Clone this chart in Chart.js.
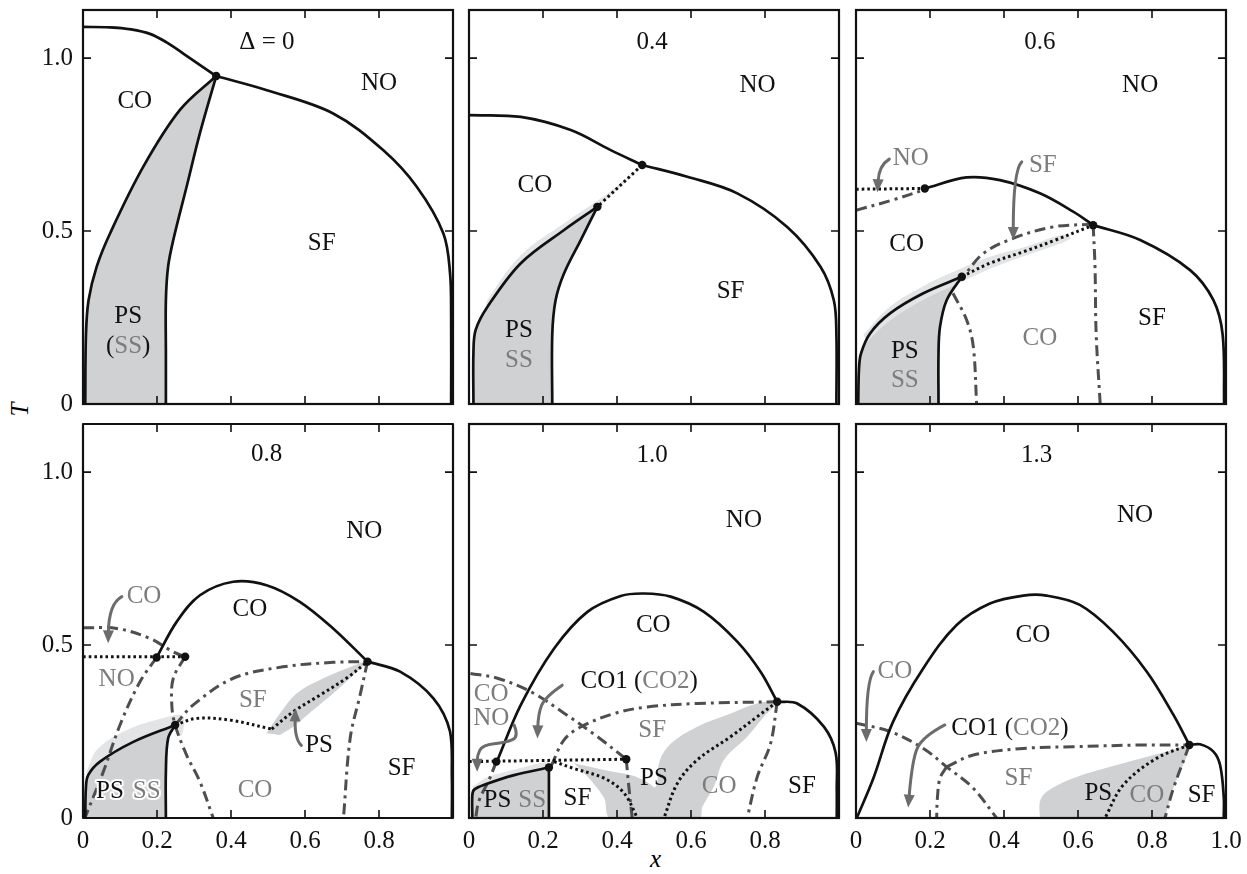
<!DOCTYPE html>
<html>
<head>
<meta charset="utf-8">
<title>Phase diagrams T(x) for several Δ</title>
<script src="https://cdn.jsdelivr.net/npm/chart.js@4.4.1/dist/chart.umd.min.js"></script>
<style>
  body { margin: 0; background: #fff; width: 1247px; height: 874px; position: relative; overflow: hidden; font-family: "Liberation Serif", serif; }
  canvas { position: absolute; }
  .axt { position: absolute; font-family: "Liberation Serif", serif; font-style: italic; font-size: 25px; color: #000; line-height: 1; }
</style>
</head>
<body>
<div class="axt" style="left:13px; top:397px; transform: rotate(-90deg);">T</div>
<div class="axt" style="left:650px; top:846px;">x</div>
<script>
// axes
const xTickVals = [0, 0.2, 0.4, 0.6, 0.8, 1.0];
const tTickVals = [0, 0.5, 1.0];
const T_MAX = 1.139;
const deltas = ['Δ = 0', '0.4', '0.6', '0.8', '1.0', '1.3'];

// ---- Δ = 0 ----
const d0_coNo = [[0, 1.09], [0.073, 1.089], [0.13, 1.083], [0.181, 1.07], [0.225, 1.046], [0.271, 1.013], [0.36, 0.948]];
const d0_noSf = [[0.36, 0.948], [0.497, 0.907], [0.676, 0.84], [0.811, 0.734], [0.902, 0.628], [0.974, 0.493], [0.992, 0.378], [0.995, 0.25], [0.995, 0]];
const d0_coPs = [[0.36, 0.948], [0.262, 0.85], [0.163, 0.686], [0.073, 0.493], [0.037, 0.397], [0.015, 0.3], [0.008, 0.2], [0.006, 0]];
const d0_psSf = [[0.36, 0.948], [0.316, 0.783], [0.28, 0.628], [0.244, 0.474], [0.23, 0.397], [0.224, 0.3], [0.224, 0.15], [0.224, 0]];
const d0_dots = [[0.36, 0.948]];

// ---- Δ = 0.4 ----
const d4_coNo = [[0, 0.835], [0.14, 0.83], [0.275, 0.792], [0.383, 0.734], [0.468, 0.691]];
const d4_noSf = [[0.468, 0.691], [0.59, 0.657], [0.725, 0.609], [0.86, 0.512], [0.95, 0.397], [0.986, 0.3], [0.993, 0.2], [0.993, 0]];
const d4_dot = [[0.468, 0.691], [0.347, 0.57]];
const d4_coPs = [[0.347, 0.57], [0.257, 0.503], [0.14, 0.407], [0.05, 0.281], [0.018, 0.214], [0.012, 0.15], [0.012, 0]];
const d4_psSf = [[0.347, 0.57], [0.302, 0.474], [0.257, 0.378], [0.234, 0.3], [0.225, 0.2], [0.225, 0]];
const d4_halo = [[0.468, 0.691], [0.37, 0.605], [0.26, 0.525], [0.14, 0.43], [0.05, 0.3], [0.05, 0.281], [0.14, 0.407], [0.257, 0.503], [0.347, 0.57], [0.43, 0.65]];
const d4_dots = [[0.468, 0.691], [0.347, 0.57]];

// ---- Δ = 0.6 ----
const d6_coNo = [[0.186, 0.623], [0.299, 0.655], [0.389, 0.647], [0.497, 0.609], [0.587, 0.556], [0.641, 0.517]];
const d6_noSf = [[0.641, 0.517], [0.768, 0.474], [0.903, 0.387], [0.966, 0.3], [0.991, 0.2], [0.995, 0]];
const d6_dotTop = [[0, 0.621], [0.186, 0.623]];
const d6_dashTop = [[0, 0.56], [0.1, 0.59], [0.186, 0.62]];
const d6_dashMid = [[0.641, 0.52], [0.533, 0.512], [0.425, 0.479], [0.344, 0.435], [0.29, 0.368]];
const d6_dotMid = [[0.286, 0.368], [0.362, 0.407], [0.452, 0.44], [0.539, 0.474], [0.641, 0.517]];
const d6_coPs = [[0.286, 0.368], [0.182, 0.32], [0.092, 0.262], [0.038, 0.204], [0.0135, 0.146], [0.008, 0.1], [0.006, 0]];
const d6_psSf = [[0.286, 0.368], [0.245, 0.3], [0.227, 0.223], [0.223, 0.146], [0.223, 0]];
const d6_dashLow = [[0.262, 0.32], [0.299, 0.243], [0.317, 0.166], [0.326, 0]];
const d6_dashVert = [[0.641, 0.517], [0.646, 0.397], [0.649, 0.204], [0.66, 0]];
const d6_halo = [[0.02, 0.2], [0.09, 0.28], [0.18, 0.34], [0.28, 0.39], [0.36, 0.425], [0.46, 0.455], [0.56, 0.49], [0.58, 0.478], [0.46, 0.43], [0.36, 0.39], [0.29, 0.355], [0.18, 0.3], [0.09, 0.24], [0.03, 0.18]];
const d6_dots = [[0.186, 0.623], [0.641, 0.517], [0.286, 0.368]];

// ---- Δ = 0.8 ----
const d8_dome = [[0.199, 0.464], [0.253, 0.567], [0.316, 0.644], [0.406, 0.683], [0.496, 0.673], [0.586, 0.625], [0.676, 0.548], [0.769, 0.452]];
const d8_noSf = [[0.769, 0.452], [0.857, 0.423], [0.947, 0.346], [0.992, 0.25], [0.997, 0.12], [0.997, 0]];
const d8_dotTop = [[0, 0.466], [0.276, 0.466]];
const d8_dashTop = [[0, 0.55], [0.091, 0.548], [0.181, 0.519], [0.244, 0.48], [0.276, 0.466]];
const d8_dashA = [[0.199, 0.464], [0.154, 0.394], [0.1, 0.269], [0.055, 0.134], [0.005, 0]];
const d8_dashB = [[0.276, 0.466], [0.244, 0.404], [0.24, 0.327], [0.249, 0.269], [0.28, 0.182], [0.316, 0.105], [0.352, 0]];
const d8_dashC = [[0.249, 0.269], [0.298, 0.327], [0.406, 0.404], [0.541, 0.437], [0.676, 0.45], [0.769, 0.452]];
const d8_dotMidA = [[0.249, 0.269], [0.307, 0.288], [0.397, 0.283], [0.51, 0.257]];
const d8_dotMidB = [[0.51, 0.257], [0.568, 0.307], [0.64, 0.355], [0.712, 0.404], [0.769, 0.452]];
const d8_dashD = [[0.769, 0.452], [0.749, 0.356], [0.722, 0.23], [0.704, 0]];
const d8_coPs = [[0.249, 0.269], [0.136, 0.22], [0.046, 0.163], [0.014, 0.124], [0.008, 0.09], [0.006, 0]];
const d8_psSf = [[0.249, 0.269], [0.23, 0.23], [0.224, 0.134], [0.224, 0]];
const d8_halo = [[0.008, 0.13], [0.04, 0.2], [0.12, 0.255], [0.22, 0.29], [0.27, 0.295], [0.265, 0.235], [0.249, 0.269], [0.136, 0.22], [0.046, 0.163], [0.014, 0.124]];
const d8_psBand = [[0.496, 0.245], [0.532, 0.302], [0.577, 0.36], [0.64, 0.399], [0.712, 0.432], [0.766, 0.452], [0.73, 0.413], [0.676, 0.36], [0.622, 0.312], [0.568, 0.264], [0.532, 0.24]];
const d8_dots = [[0.199, 0.464], [0.276, 0.466], [0.249, 0.269], [0.769, 0.452]];

// ---- Δ = 1.0 ----
const d10_dome = [[0.075, 0.162], [0.14, 0.327], [0.23, 0.49], [0.32, 0.596], [0.41, 0.642], [0.473, 0.649], [0.545, 0.64], [0.635, 0.596], [0.725, 0.51], [0.788, 0.423], [0.833, 0.336]];
const d10_noSf = [[0.833, 0.336], [0.887, 0.331], [0.959, 0.264], [0.991, 0.188], [0.994, 0.08], [0.994, 0]];
const d10_dotTop = [[0, 0.163], [0.425, 0.17]];
const d10_dashTop = [[0.004, 0.418], [0.077, 0.404], [0.167, 0.365], [0.257, 0.303], [0.347, 0.235], [0.425, 0.17]];
const d10_dashDown = [[0.425, 0.17], [0.432, 0.09], [0.441, 0]];
const d10_dashLeft = [[0.074, 0.163], [0.054, 0.11], [0.027, 0.05], [0.018, 0]];
const d10_coPs = [[0.216, 0.146], [0.122, 0.124], [0.041, 0.096], [0.014, 0.082], [0.009, 0.066], [0.009, 0]];
const d10_psSf = [[0.216, 0.146], [0.216, 0]];
const d10_dotLow = [[0.23, 0.163], [0.284, 0.143], [0.365, 0.115], [0.419, 0.072], [0.455, 0]];
const d10_dashRise = [[0.222, 0.15], [0.257, 0.226], [0.302, 0.263], [0.392, 0.302], [0.482, 0.321], [0.617, 0.331], [0.833, 0.336]];
const d10_dotRight = [[0.833, 0.336], [0.779, 0.293], [0.707, 0.235], [0.617, 0.168], [0.563, 0.1], [0.527, 0]];
const d10_dashRight = [[0.833, 0.336], [0.815, 0.215], [0.779, 0.119], [0.752, 0]];
const d10_psArea = [[0.284, 0.158], [0.365, 0.139], [0.437, 0.124], [0.48, 0.105], [0.505, 0.09], [0.515, 0.165], [0.545, 0.215], [0.617, 0.264], [0.707, 0.302], [0.779, 0.331], [0.833, 0.336], [0.797, 0.293], [0.752, 0.235], [0.689, 0.168], [0.662, 0.091], [0.631, 0.033], [0.622, 0], [0.383, 0], [0.365, 0.058], [0.329, 0.11]];
const d10_halo = [[0.009, 0.09], [0.05, 0.118], [0.13, 0.142], [0.216, 0.162], [0.216, 0.146], [0.122, 0.124], [0.041, 0.096], [0.014, 0.082]];
const d10_dots = [[0.074, 0.163], [0.425, 0.17], [0.216, 0.146], [0.833, 0.336]];

// ---- Δ = 1.3 ----
const d13_dome = [[0.002, 0], [0.047, 0.115], [0.1, 0.278], [0.182, 0.433], [0.272, 0.558], [0.362, 0.62], [0.452, 0.643], [0.515, 0.643], [0.605, 0.616], [0.695, 0.538], [0.786, 0.423], [0.858, 0.298], [0.901, 0.211]];
const d13_tail = [[0.901, 0.211], [0.93, 0.213], [0.966, 0.192], [0.984, 0.153], [0.994, 0.06], [0.994, 0]];
const d13_dashA = [[0, 0.274], [0.092, 0.25], [0.182, 0.201], [0.245, 0.148], [0.317, 0.086], [0.38, 0]];
const d13_dashB = [[0.245, 0.148], [0.317, 0.182], [0.452, 0.201], [0.587, 0.206], [0.77, 0.211], [0.901, 0.211]];
const d13_dashC = [[0.245, 0.148], [0.227, 0.115], [0.22, 0.058], [0.218, 0]];
const d13_dotA = [[0.901, 0.211], [0.813, 0.173], [0.722, 0.095], [0.673, 0]];
const d13_dashD = [[0.901, 0.211], [0.858, 0.086], [0.835, 0]];
const d13_psArea = [[0.497, 0], [0.497, 0.047], [0.515, 0.076], [0.587, 0.115], [0.722, 0.158], [0.858, 0.197], [0.901, 0.211], [0.858, 0.086], [0.835, 0]];
const d13_dots = [[0.901, 0.211]];

const INK = '#111';
const GREY_TXT = '#7c7c7c';
const GREY_LINE = '#4e4e4e';
const GREY_ARROW = '#6c6c6c';
const SHADE = '#d0d1d3';
const HALO = '#e3e4e5';
const TXT_FONT = '25px "Liberation Serif"';

const blk = s => [[s, INK]];
const gry = s => [[s, GREY_TXT]];

function rev(pts) { return pts.slice().reverse(); }
function xy(pts) { return pts.map(p => ({ x: p[0], y: p[1] })); }

const panels = [
  {
    col: 0, row: 0,
    shades: [[[d0_coPs, rev(d0_psSf)], SHADE]],
    solid: [d0_coNo, d0_noSf, d0_coPs, d0_psSf], dotted: [], dashed: [], dots: d0_dots,
    labels: [
      { x: 0.497, y: 1.046, t: blk(deltas[0]) },
      { x: 0.80, y: 0.927, t: blk('NO') }, { x: 0.14, y: 0.874, t: blk('CO') },
      { x: 0.645, y: 0.464, t: blk('SF') }, { x: 0.122, y: 0.252, t: blk('PS') },
      { x: 0.122, y: 0.166, t: [['(', INK], ['SS', GREY_TXT], [')', INK]] }
    ],
    arrows: []
  },
  {
    col: 1, row: 0,
    shades: [[[d4_halo], HALO], [[d4_coPs, rev(d4_psSf)], SHADE]],
    solid: [d4_coNo, d4_noSf, d4_coPs, d4_psSf], dotted: [d4_dot], dashed: [], dots: d4_dots,
    labels: [
      { x: 0.495, y: 1.046, t: blk(deltas[1]) },
      { x: 0.78, y: 0.922, t: blk('NO') }, { x: 0.178, y: 0.633, t: blk('CO') },
      { x: 0.707, y: 0.325, t: blk('SF') }, { x: 0.135, y: 0.214, t: blk('PS') },
      { x: 0.135, y: 0.127, t: gry('SS') }
    ],
    arrows: []
  },
  {
    col: 2, row: 0,
    shades: [[[d6_halo], HALO], [[d6_coPs, rev(d6_psSf)], SHADE]],
    solid: [d6_coNo, d6_noSf, d6_coPs, d6_psSf], dotted: [d6_dotTop, d6_dotMid],
    dashed: [d6_dashTop, d6_dashMid, d6_dashLow, d6_dashVert], dots: d6_dots,
    labels: [
      { x: 0.497, y: 1.046, t: blk(deltas[2]) },
      { x: 0.768, y: 0.922, t: blk('NO') }, { x: 0.137, y: 0.46, t: blk('CO') },
      { x: 0.8, y: 0.248, t: blk('SF') }, { x: 0.497, y: 0.19, t: gry('CO') },
      { x: 0.132, y: 0.151, t: blk('PS') }, { x: 0.132, y: 0.069, t: gry('SS') },
      { x: 0.148, y: 0.711, t: gry('NO') }, { x: 0.505, y: 0.691, t: gry('SF') }
    ],
    arrows: [
      [[0.09, 0.708], [0.062, 0.69], [0.058, 0.612]],
      [[0.448, 0.70], [0.425, 0.676], [0.425, 0.474]]
    ]
  },
  {
    col: 0, row: 1,
    shades: [[[d8_halo], HALO], [[d8_coPs, rev(d8_psSf)], SHADE], [[d8_psBand], SHADE]],
    solid: [d8_dome, d8_noSf, d8_coPs, d8_psSf], dotted: [d8_dotTop, d8_dotMidA, d8_dotMidB],
    dashed: [d8_dashTop, d8_dashA, d8_dashB, d8_dashC, d8_dashD], dots: d8_dots,
    labels: [
      { x: 0.496, y: 1.051, t: blk(deltas[3]) },
      { x: 0.76, y: 0.829, t: blk('NO') }, { x: 0.451, y: 0.604, t: blk('CO') },
      { x: 0.165, y: 0.64, t: gry('CO') }, { x: 0.091, y: 0.402, t: gry('NO') },
      { x: 0.459, y: 0.341, t: gry('SF') }, { x: 0.638, y: 0.209, t: blk('PS') },
      { x: 0.861, y: 0.144, t: blk('SF') }, { x: 0.465, y: 0.081, t: gry('CO') },
      { x: 0.073, y: 0.076, t: blk('PS'), halo: true }, { x: 0.172, y: 0.076, t: gry('SS'), halo: true }
    ],
    arrows: [
      [[0.105, 0.64], [0.07, 0.62], [0.068, 0.505]],
      [[0.59, 0.21], [0.572, 0.228], [0.574, 0.317]]
    ]
  },
  {
    col: 1, row: 1,
    shades: [[[d10_halo], HALO], [[d10_coPs, rev(d10_psSf)], SHADE], [[d10_psArea], SHADE]],
    solid: [d10_dome, d10_noSf, d10_coPs, d10_psSf], dotted: [d10_dotTop, d10_dotLow, d10_dotRight],
    dashed: [d10_dashTop, d10_dashDown, d10_dashLeft, d10_dashRise, d10_dashRight], dots: d10_dots,
    labels: [
      { x: 0.495, y: 1.049, t: blk(deltas[4]) },
      { x: 0.743, y: 0.861, t: blk('NO') }, { x: 0.498, y: 0.558, t: blk('CO') },
      { x: 0.46, y: 0.394, t: [['CO1 (', INK], ['CO2', GREY_TXT], [')', INK]] },
      { x: 0.06, y: 0.356, t: gry('CO') }, { x: 0.06, y: 0.288, t: gry('NO') },
      { x: 0.495, y: 0.254, t: gry('SF') }, { x: 0.5, y: 0.115, t: blk('PS') },
      { x: 0.676, y: 0.09, t: gry('CO') }, { x: 0.9, y: 0.09, t: blk('SF') },
      { x: 0.077, y: 0.052, t: blk('PS') }, { x: 0.171, y: 0.052, t: gry('SS') },
      { x: 0.293, y: 0.057, t: blk('SF') }
    ],
    arrows: [
      [[0.252, 0.384], [0.205, 0.35], [0.187, 0.3], [0.185, 0.23]],
      [[0.122, 0.269], [0.135, 0.235], [0.1, 0.218], [0.036, 0.211], [0.022, 0.18], [0.022, 0.134]]
    ]
  },
  {
    col: 2, row: 1,
    shades: [[[d13_psArea], SHADE]],
    solid: [d13_dome, d13_tail], dotted: [d13_dotA],
    dashed: [d13_dashA, d13_dashB, d13_dashC, d13_dashD], dots: d13_dots,
    labels: [
      { x: 0.488, y: 1.049, t: blk(deltas[5]) },
      { x: 0.754, y: 0.876, t: blk('NO') }, { x: 0.478, y: 0.529, t: blk('CO') },
      { x: 0.105, y: 0.423, t: gry('CO') },
      { x: 0.416, y: 0.259, t: [['CO1 (', INK], ['CO2', GREY_TXT], [')', INK]] },
      { x: 0.439, y: 0.115, t: gry('SF') }, { x: 0.655, y: 0.071, t: blk('PS') },
      { x: 0.786, y: 0.066, t: gry('CO') }, { x: 0.934, y: 0.066, t: blk('SF') }
    ],
    arrows: [
      [[0.047, 0.423], [0.028, 0.394], [0.028, 0.22]],
      [[0.24, 0.269], [0.18, 0.235], [0.152, 0.17], [0.141, 0.03]]
    ]
  }
];

const frameLeft = [83, 469, 856];
const frameTop = [10, 424];
const FRAME_W = 370, FRAME_H = 394;
// generous paddings so edge tick labels never shrink the plot area
const PAD_L = 70, PAD_T = 34, PAD_R = 34, PAD_B = 40;

function lineSet(pts, kind) {
  const ds = { data: xy(pts), pointRadius: 0, fill: false, tension: 0.35, borderCapStyle: 'butt', order: 5 };
  if (kind === 'solid') return Object.assign(ds, { borderColor: INK, borderWidth: 2.7 });
  if (kind === 'dot') return Object.assign(ds, { borderColor: INK, borderWidth: 3, borderDash: [2.6, 3] });
  return Object.assign(ds, { borderColor: GREY_LINE, borderWidth: 3, borderDash: [11, 5, 3, 5] });
}

// pieces are joined with a doubled point so the spline keeps a sharp corner there
function shadeSet(pieces, color) {
  let pts = [];
  pieces.forEach(pc => { pts = pts.concat([pc[0]], pc, [pc[pc.length - 1]]); });
  pts.push(pts[0]);
  return {
    data: xy(pts), pointRadius: 0, borderWidth: 0,
    borderColor: 'rgba(0,0,0,0)', backgroundColor: color, fill: 'shape', tension: 0.35, order: 10
  };
}

function dotSet(pts) {
  return { data: xy(pts), showLine: false, pointRadius: 4.2, pointBackgroundColor: INK, pointBorderWidth: 0, order: 0 };
}

function drawArrow(ctx, p) {
  const n = p.length;
  const end = p[n - 1], prev = p[n - 2];
  const ang = Math.atan2(end.y - prev.y, end.x - prev.x);
  const head = 13;
  const stop = { x: end.x - Math.cos(ang) * (head - 2), y: end.y - Math.sin(ang) * (head - 2) };
  ctx.beginPath();
  ctx.moveTo(p[0].x, p[0].y);
  for (let i = 1; i < n - 1; i++) {
    const nx = i + 1 < n - 1 ? (p[i].x + p[i + 1].x) / 2 : stop.x;
    const ny = i + 1 < n - 1 ? (p[i].y + p[i + 1].y) / 2 : stop.y;
    ctx.quadraticCurveTo(p[i].x, p[i].y, nx, ny);
  }
  ctx.stroke();
  ctx.beginPath();
  ctx.moveTo(end.x, end.y);
  ctx.lineTo(end.x - Math.cos(ang) * head - Math.sin(ang) * 5.5, end.y - Math.sin(ang) * head + Math.cos(ang) * 5.5);
  ctx.lineTo(end.x - Math.cos(ang) * head + Math.sin(ang) * 5.5, end.y - Math.sin(ang) * head - Math.cos(ang) * 5.5);
  ctx.closePath();
  ctx.fill();
}

function drawLabel(ctx, px, py, segs, halo) {
  ctx.font = TXT_FONT;
  ctx.textBaseline = 'middle';
  ctx.textAlign = 'left';
  const total = segs.reduce((s, g) => s + ctx.measureText(g[0]).width, 0);
  let cx = px - total / 2;
  segs.forEach(g => {
    if (halo) {
      ctx.lineWidth = 4; ctx.lineJoin = 'round'; ctx.strokeStyle = '#fff';
      ctx.strokeText(g[0], cx, py);
    }
    ctx.fillStyle = g[1];
    ctx.fillText(g[0], cx, py);
    cx += ctx.measureText(g[0]).width;
  });
}

const phasePlugin = {
  id: 'phase',
  afterDatasetsDraw(chart, args, opts) {
    const { ctx, chartArea: a, scales: { x, y } } = chart;
    const p = opts.panel;
    ctx.save();
    // arrows
    ctx.strokeStyle = GREY_ARROW; ctx.fillStyle = GREY_ARROW; ctx.lineWidth = 3; ctx.lineCap = 'round';
    p.arrows.forEach(ar => drawArrow(ctx, ar.map(q => ({ x: x.getPixelForValue(q[0]), y: y.getPixelForValue(q[1]) }))));
    // labels
    p.labels.forEach(l => drawLabel(ctx, x.getPixelForValue(l.x), y.getPixelForValue(l.y), l.t, l.halo));
    // frame and inward ticks
    ctx.strokeStyle = INK; ctx.lineCap = 'butt';
    ctx.lineWidth = 1.6;
    x.ticks.forEach(t => {
      if (t.value <= 0.01 || t.value >= 0.99) return;
      const px = x.getPixelForValue(t.value);
      ctx.beginPath(); ctx.moveTo(px, a.top); ctx.lineTo(px, a.top + 8);
      ctx.moveTo(px, a.bottom); ctx.lineTo(px, a.bottom - 8); ctx.stroke();
    });
    y.ticks.forEach(t => {
      if (t.value <= 0.01) return;
      const py = y.getPixelForValue(t.value);
      ctx.beginPath(); ctx.moveTo(a.left, py); ctx.lineTo(a.left + 8, py);
      ctx.moveTo(a.right, py); ctx.lineTo(a.right - 8, py); ctx.stroke();
    });
    ctx.lineWidth = 2.2;
    ctx.strokeRect(a.left, a.top, a.right - a.left, a.bottom - a.top);
    ctx.restore();
  }
};

Chart.defaults.font.family = '"Liberation Serif", serif';
Chart.defaults.color = INK;

function fmtX(v, showOne) {
  if (v === 0) return '0';
  if (v > 0.99 && !showOne) return '';
  return v.toFixed(1);
}

panels.forEach(p => {
  const cv = document.createElement('canvas');
  const W = PAD_L + FRAME_W + PAD_R, H = PAD_T + FRAME_H + PAD_B;
  cv.width = W; cv.height = H;
  cv.style.left = (frameLeft[p.col] - PAD_L) + 'px';
  cv.style.top = (frameTop[p.row] - PAD_T) + 'px';
  cv.style.width = W + 'px'; cv.style.height = H + 'px';
  document.body.appendChild(cv);

  const datasets = [];
  p.shades.forEach(s => datasets.push(shadeSet(s[0], s[1])));
  p.solid.forEach(s => datasets.push(lineSet(s, 'solid')));
  p.dotted.forEach(s => datasets.push(lineSet(s, 'dot')));
  p.dashed.forEach(s => datasets.push(lineSet(s, 'dash')));
  datasets.push(dotSet(p.dots));

  new Chart(cv, {
    type: 'line',
    data: { datasets },
    options: {
      responsive: false,
      animation: false,
      events: [],
      layout: { padding: { left: 0, top: PAD_T, right: PAD_R, bottom: 0 } },
      plugins: { legend: { display: false }, tooltip: { enabled: false }, phase: { panel: p } },
      scales: {
        x: {
          type: 'linear', min: 0, max: 1,
          grid: { display: false, drawTicks: false }, border: { display: false },
          afterBuildTicks: s => { s.ticks = xTickVals.map(v => ({ value: v })); },
          afterFit: s => { s.height = PAD_B; },
          ticks: {
            display: p.row === 1, autoSkip: false, maxRotation: 0, padding: 8,
            font: { size: 25 }, color: INK,
            callback: v => fmtX(v, p.col === 2)
          }
        },
        y: {
          type: 'linear', min: 0, max: T_MAX,
          grid: { display: false, drawTicks: false }, border: { display: false },
          afterBuildTicks: s => { s.ticks = tTickVals.map(v => ({ value: v })); },
          afterFit: s => { s.width = PAD_L; },
          ticks: {
            display: p.col === 0, padding: 10,
            font: { size: 25 }, color: INK,
            callback: v => (v === 0 ? '0' : v.toFixed(1))
          }
        }
      }
    },
    plugins: [phasePlugin]
  });
});
</script>
</body>
</html>
